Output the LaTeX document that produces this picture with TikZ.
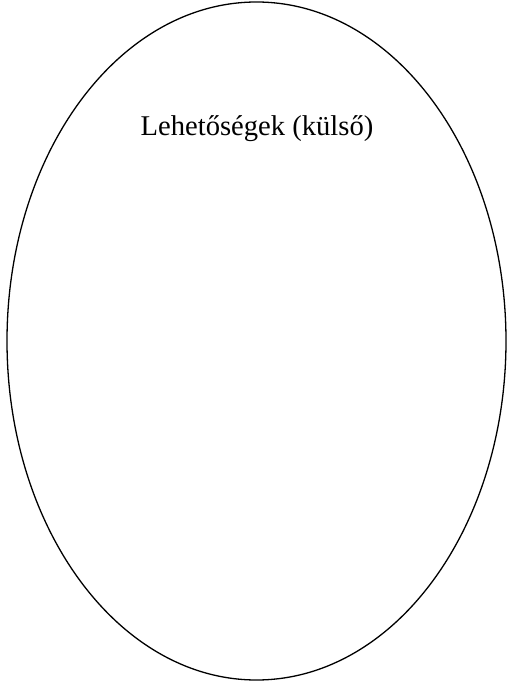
\documentclass[tikz,border=0pt]{standalone}
\usepackage{fontspec}
\setmainfont{Liberation Serif}
\usetikzlibrary{shapes.geometric, positioning}

\begin{document}
\begin{tikzpicture}[x=0.5pt, y=0.5pt,
    every node/.style={font=\fontsize{14.3}{17}\selectfont},
    oval/.style={draw, ellipse, line width=0.65pt, inner sep=0pt,
      minimum width=249.5pt, minimum height=339pt}]
  % Canvas
  \useasboundingbox (0,0) rectangle (508,682);
  % Outer ellipse
  \node[oval] (kulso) at (256.5,341) {};
  % Title
  \node (cim) at (257,553) {Lehetőségek (külső)};
\end{tikzpicture}
\end{document}
